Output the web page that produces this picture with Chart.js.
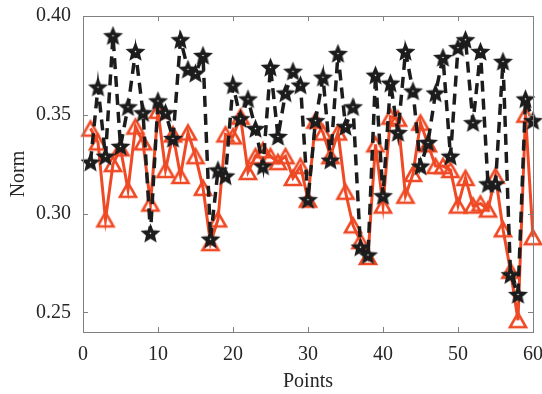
<!DOCTYPE html>
<html>
<head>
<meta charset="utf-8">
<script src="https://cdn.jsdelivr.net/npm/chart.js@4.4.0/dist/chart.umd.min.js"></script>
<style>
    html, body { margin: 0; padding: 0; background: #fff; }
    #wrap { width: 542px; height: 394px; }
</style>
</head>
<body>
<div id="wrap"><canvas id="normChart" width="542" height="394"></canvas></div>
<script>
// Chart data
const points = [1, 2, 3, 4, 5, 6, 7, 8, 9, 10, 11, 12, 13, 14, 15, 16, 17, 18, 19, 20,
    21, 22, 23, 24, 25, 26, 27, 28, 29, 30, 31, 32, 33, 34, 35, 36, 37, 38, 39, 40,
    41, 42, 43, 44, 45, 46, 47, 48, 49, 50, 51, 52, 53, 54, 55, 56, 57, 58, 59, 60];

const blackNorm = [0.326, 0.364, 0.329, 0.390, 0.334, 0.354, 0.382, 0.351, 0.290, 0.357,
    0.351, 0.338, 0.388, 0.373, 0.371, 0.380, 0.287, 0.322, 0.319, 0.365,
    0.348, 0.358, 0.343, 0.324, 0.374, 0.339, 0.361, 0.372, 0.365, 0.307,
    0.347, 0.369, 0.327, 0.381, 0.344, 0.354, 0.283, 0.279, 0.370, 0.309,
    0.366, 0.341, 0.382, 0.362, 0.324, 0.336, 0.361, 0.379, 0.329, 0.384,
    0.388, 0.346, 0.382, 0.315, 0.315, 0.377, 0.269, 0.259, 0.358, 0.347];

const redNorm = [0.343, 0.336, 0.297, 0.325, 0.333, 0.312, 0.344, 0.336, 0.305, 0.352,
    0.322, 0.340, 0.319, 0.341, 0.329, 0.313, 0.285, 0.297, 0.340, 0.339,
    0.349, 0.321, 0.329, 0.332, 0.329, 0.326, 0.329, 0.318, 0.324, 0.307,
    0.347, 0.341, 0.329, 0.341, 0.311, 0.294, 0.286, 0.278, 0.335, 0.304,
    0.349, 0.348, 0.309, 0.320, 0.346, 0.335, 0.324, 0.324, 0.322, 0.304,
    0.318, 0.304, 0.305, 0.302, 0.319, 0.292, 0.271, 0.246, 0.350, 0.288];

const xTicks = [0, 10, 20, 30, 40, 50, 60];
const yTicks = [0.25, 0.30, 0.35, 0.40];

const BLACK = '#1c1c1c';
const RED = '#ef4a25';
const AXIS = '#808080';
const TEXT = '#262626';
const FONT = "'Liberation Serif', 'DejaVu Serif', serif";

// Filled pentagram marker with a small white centre dot
function makeStar(r) {
    const size = Math.ceil(r * 2 + 4);
    const c = document.createElement('canvas');
    c.width = size;
    c.height = size;
    const g = c.getContext('2d');
    const cx = size / 2, cy = size / 2 + 0.8;
    g.beginPath();
    for (let k = 0; k < 10; k++) {
        const rad = k % 2 ? r * 0.45 : r;
        const a = -Math.PI / 2 + k * Math.PI / 5;
        g.lineTo(cx + rad * Math.cos(a), cy + rad * Math.sin(a));
    }
    g.closePath();
    g.fillStyle = BLACK;
    g.fill();
    g.fillStyle = '#ffffff';
    g.beginPath();
    g.arc(size / 2, size / 2, 0.8, 0, Math.PI * 2);
    g.fill();
    return c;
}

// Open triangle marker, centred on its bounding box
function makeTriangle(w, lw) {
    const h = w * 0.88;
    const size = Math.ceil(w + lw * 2 + 2);
    const c = document.createElement('canvas');
    c.width = size;
    c.height = size;
    const g = c.getContext('2d');
    const cx = size / 2, cy = size / 2;
    g.beginPath();
    g.moveTo(cx, cy - h / 2);
    g.lineTo(cx + w / 2, cy + h / 2);
    g.lineTo(cx - w / 2, cy + h / 2);
    g.closePath();
    g.strokeStyle = RED;
    g.lineWidth = lw;
    g.lineJoin = 'miter';
    g.stroke();
    return c;
}

const starMarker = makeStar(10.5);
const triMarker = makeTriangle(16, 2.6);

// Axes box with inward ticks on all four sides, plus the x tick labels
// (drawn here so the "60" may run off the edge like the original)
const boxPlugin = {
    id: 'matlabBox',
    afterDraw(chart) {
        const { ctx, chartArea: a, scales } = chart;
        ctx.save();
        ctx.strokeStyle = AXIS;
        ctx.lineWidth = 1;
        ctx.strokeRect(a.left + 0.5, a.top + 0.5, a.right - a.left, a.bottom - a.top);
        ctx.beginPath();
        xTicks.forEach(v => {
            const px = Math.round(scales.x.getPixelForValue(v)) + 0.5;
            ctx.moveTo(px, a.bottom);
            ctx.lineTo(px, a.bottom - 5);
            ctx.moveTo(px, a.top);
            ctx.lineTo(px, a.top + 5);
        });
        yTicks.forEach(v => {
            const py = Math.round(scales.y.getPixelForValue(v)) + 0.5;
            ctx.moveTo(a.left, py);
            ctx.lineTo(a.left + 5, py);
            ctx.moveTo(a.right, py);
            ctx.lineTo(a.right - 5, py);
        });
        ctx.stroke();

        ctx.fillStyle = TEXT;
        ctx.font = '20px ' + FONT;
        ctx.textAlign = 'center';
        ctx.textBaseline = 'middle';
        xTicks.forEach(v => {
            ctx.fillText(String(v), scales.x.getPixelForValue(v), a.bottom + 23);
        });
        ctx.restore();
    }
};

const ctx = document.getElementById('normChart').getContext('2d');
new Chart(ctx, {
    type: 'line',
    data: {
        datasets: [{
            label: 'black',
            data: points.map((p, i) => ({ x: p, y: blackNorm[i] })),
            borderColor: BLACK,
            borderWidth: 3.5,
            borderDash: [11, 7],
            pointStyle: starMarker,
            pointRadius: 5,
            pointBorderWidth: 0,
            tension: 0,
            clip: false,
            order: 0
        }, {
            label: 'red',
            data: points.map((p, i) => ({ x: p, y: redNorm[i] })),
            borderColor: RED,
            borderWidth: 3,
            pointStyle: triMarker,
            pointRadius: 5,
            pointBorderWidth: 0,
            tension: 0,
            clip: false,
            order: 1
        }]
    },
    options: {
        responsive: false,
        animation: false,
        layout: {
            padding: { left: 0, top: 16, right: 9, bottom: 0 }
        },
        plugins: {
            legend: { display: false },
            tooltip: { enabled: false }
        },
        scales: {
            x: {
                type: 'linear',
                min: 0,
                max: 60,
                grid: { display: false, drawTicks: false },
                border: { display: false },
                afterBuildTicks: scale => { scale.ticks = xTicks.map(v => ({ value: v })); },
                afterFit: scale => {
                    scale.height = 62;
                    scale.paddingLeft = 0;
                    scale.paddingRight = 0;
                },
                ticks: { display: false },
                title: {
                    display: true,
                    text: 'Points',
                    color: TEXT,
                    padding: { top: 0, bottom: 0 },
                    font: { family: FONT, size: 20 }
                }
            },
            y: {
                min: 0.24,
                max: 0.40,
                grid: { display: false, drawTicks: false },
                border: { display: false },
                afterBuildTicks: scale => { scale.ticks = yTicks.map(v => ({ value: v })); },
                afterFit: scale => {
                    scale.width = 83;
                    scale.paddingTop = 0;
                    scale.paddingBottom = 0;
                },
                ticks: {
                    padding: 12,
                    color: TEXT,
                    font: { family: FONT, size: 20 },
                    callback: v => v.toFixed(2)
                },
                title: {
                    display: true,
                    text: 'Norm',
                    color: TEXT,
                    padding: { top: 7, bottom: 0 },
                    font: { family: FONT, size: 20 }
                }
            }
        }
    },
    plugins: [boxPlugin]
});
</script>
</body>
</html>
